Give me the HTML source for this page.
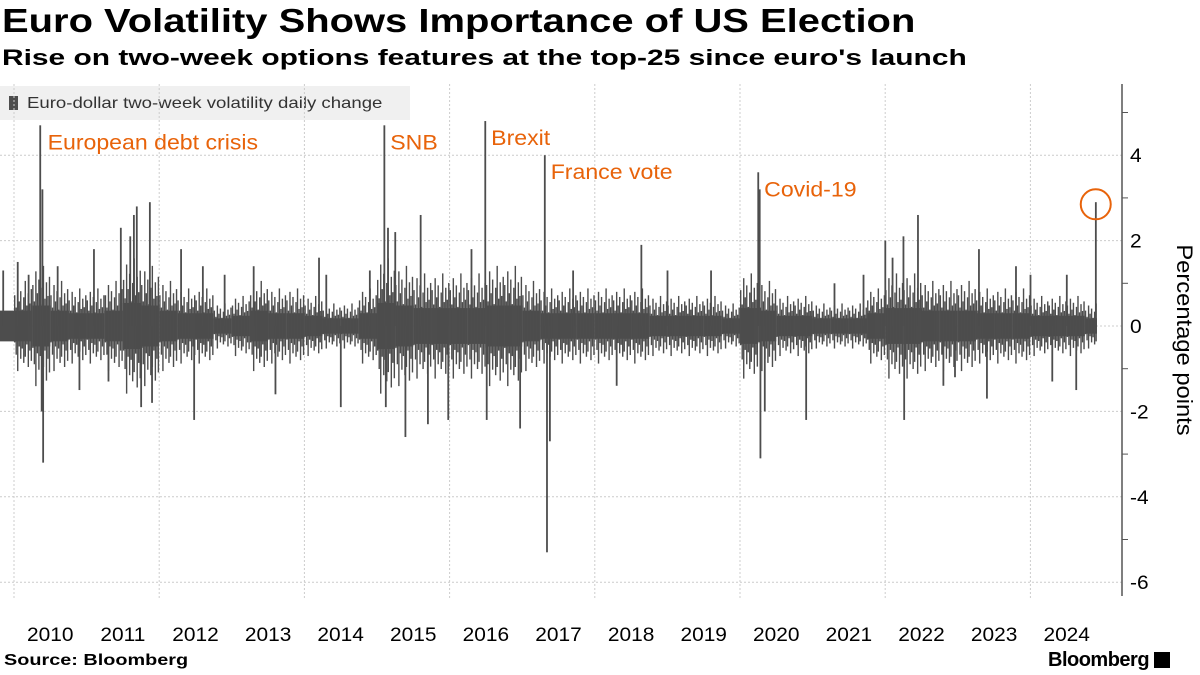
<!DOCTYPE html>
<html><head><meta charset="utf-8"><style>
body{margin:0;width:1200px;height:675px;background:#fff;font-family:"Liberation Sans",sans-serif;overflow:hidden;position:relative}
.t{position:absolute;white-space:nowrap;transform-origin:0 0}
</style></head><body>
<div class="t" style="left:2px;top:2px;font-size:33px;font-weight:bold;color:#000;transform:scaleX(1.21)">Euro Volatility Shows Importance of US Election</div>
<div class="t" style="left:2px;top:45px;font-size:22px;font-weight:bold;color:#000;transform:scaleX(1.36)">Rise on two-week options features at the top-25 since euro's launch</div>
<svg id="c" width="1200" height="675" style="position:absolute;left:0;top:0"></svg>
<div class="t" style="left:4px;top:652px;font-size:16px;font-weight:bold;transform:scaleX(1.24)">Source: Bloomberg</div>
<div class="t" style="left:1048px;top:649px;font-size:20px;font-weight:bold;letter-spacing:-0.5px">Bloomberg <span style="display:inline-block;width:16px;height:16px;background:#000;vertical-align:-2px"></span></div>
<script>
const bandYears=[2010,2010.25,2010.5,2010.75,2011,2011.25,2011.5,2011.75,2012,2012.25,2012.5,2012.75,2013,2013.25,2013.5,2013.75,2014,2014.25,2014.5,2014.75,2015,2015.25,2015.5,2015.75,2016,2016.25,2016.5,2016.75,2017,2017.25,2017.5,2017.75,2018,2018.25,2018.5,2018.75,2019,2019.25,2019.5,2019.75,2020,2020.25,2020.5,2020.75,2021,2021.25,2021.5,2021.75,2022,2022.25,2022.5,2022.75,2023,2023.25,2023.5,2023.75,2024,2024.25,2024.5,2024.75];
const bandHigh=[0.6,0.8,0.6,0.5,0.5,0.6,0.9,0.8,0.6,0.5,0.5,0.3,0.4,0.6,0.5,0.5,0.4,0.3,0.3,0.5,0.9,0.8,0.7,0.7,0.7,0.7,0.8,0.8,0.6,0.5,0.5,0.5,0.5,0.5,0.5,0.4,0.4,0.4,0.4,0.3,0.7,0.6,0.4,0.4,0.3,0.3,0.3,0.5,0.7,0.7,0.6,0.6,0.6,0.5,0.5,0.5,0.4,0.4,0.4,0.3];
const bandLow=[-0.6,-0.8,-0.6,-0.5,-0.5,-0.6,-0.9,-0.8,-0.6,-0.5,-0.5,-0.3,-0.4,-0.6,-0.5,-0.5,-0.4,-0.3,-0.3,-0.5,-0.9,-0.8,-0.7,-0.7,-0.7,-0.7,-0.8,-0.8,-0.6,-0.5,-0.5,-0.5,-0.5,-0.5,-0.5,-0.4,-0.4,-0.4,-0.4,-0.3,-0.7,-0.6,-0.4,-0.4,-0.3,-0.3,-0.3,-0.5,-0.7,-0.7,-0.6,-0.6,-0.6,-0.5,-0.5,-0.5,-0.4,-0.4,-0.4,-0.3];
const spikeDates=[2009.85,2010.05,2010.2,2010.36,2010.39,2010.38,2010.4,2010.6,2010.9,2011.1,2011.3,2011.47,2011.6,2011.65,2011.69,2011.75,2011.87,2011.9,2012.3,2012.48,2012.6,2012.9,2013.3,2013.6,2014.2,2014.3,2014.5,2014.9,2015.1,2015.12,2015.15,2015.25,2015.39,2015.6,2015.7,2015.98,2016.3,2016.49,2016.51,2016.97,2017.31,2017.34,2017.38,2017.7,2018.64,2018.3,2019.0,2019.6,2020.25,2020.27,2020.28,2020.34,2020.91,2021.3,2021.7,2022.0,2022.1,2022.25,2022.26,2022.45,2022.8,2022.96,2023.29,2023.4,2023.8,2024.0,2024.3,2024.5,2024.63,2024.9];
const spikeValues=[1.3,1.5,1.2,4.7,3.2,-2.0,-3.2,1.4,-1.5,1.8,-1.3,2.3,2.1,2.6,2.8,-1.9,2.9,-1.8,1.8,-2.2,1.4,1.2,1.4,-1.6,1.6,1.2,-1.9,1.3,4.7,-1.9,2.3,2.2,-2.6,2.6,-2.3,-2.2,1.8,4.8,-2.2,-2.4,4.0,-5.3,-2.7,1.3,1.9,-1.4,1.3,1.3,3.6,3.2,-3.1,-2.0,-2.2,1.0,1.2,2.0,1.6,2.1,-2.2,2.6,-1.4,-1.2,1.8,-1.7,1.4,1.2,-1.3,1.2,-1.5,2.9];
const yTicks=[4,2,0,-2,-4,-6];
const xYears=[2010,2011,2012,2013,2014,2015,2016,2017,2018,2019,2020,2021,2022,2023,2024];
const annotations=[["European debt crisis",2010.38,4.7],["SNB",2015.1,4.7],["Brexit",2016.49,4.8],["France vote",2017.31,4.0],["Covid-19",2020.25,3.6]];
const X=y=>14+(y-2010)*72.6, Y=v=>326-v*42.7;
const texture=[1.5,0.9,2.0,1.2,1.7,0.8,1.4,2.2,1.0,1.6,1.1,1.8];
const svg=document.getElementById('c'),NS='http://www.w3.org/2000/svg';
function mk(t,a){const e=document.createElementNS(NS,t);for(const k in a)e.setAttribute(k,a[k]);svg.appendChild(e);return e;}
function sx(e,x,s){e.setAttribute('transform','translate('+x+',0) scale('+s+',1) translate('+(-x)+',0)');}
let e=mk('rect',{x:0,y:86,width:410,height:34,fill:'#f0f0f0'});


e=mk('rect',{x:9,y:96,width:9,height:14,fill:'#4d4d4d'});


e=mk('text',{x:27,y:108,'font-size':15.5,fill:'#333','font-family':'Liberation Sans'});e.textContent='Euro-dollar two-week volatility daily change';sx(e,27,1.2);


yTicks.forEach(v=>{
 e=mk('line',{x1:0,x2:1122,y1:Y(v),y2:Y(v),stroke:'#ccc','stroke-dasharray':'2,2'});
 
 
 e=mk('text',{x:1130,y:Y(v)+7,'font-size':19,fill:'#000','font-family':'Liberation Sans'});e.textContent=v;sx(e,1130,1.1);
 
 
});
for(let v=5;v>-6;v-=2){e=mk('line',{x1:1122,x2:1128,y1:Y(v),y2:Y(v),stroke:'#555'});
 
 }
[2010,2012,2014,2016,2018,2020,2022,2024].forEach(y=>{
 e=mk('line',{x1:X(y),x2:X(y),y1:84,y2:600,stroke:'#ccc','stroke-dasharray':'2,2'});
 
 
});
xYears.forEach(y=>{
 e=mk('text',{x:X(y+0.5),y:641,'font-size':19,fill:'#000','text-anchor':'middle','font-family':'Liberation Sans'});e.textContent=y;sx(e,X(y+0.5),1.1);
 
 
});
e=mk('line',{x1:1122,x2:1122,y1:84,y2:596,stroke:'#555','stroke-width':1.5});


e=mk('text',{x:0,y:0,'font-size':22,fill:'#000','text-anchor':'middle','font-family':'Liberation Sans',transform:'translate(1177,340) rotate(90) scale(1.08,1)'});e.textContent='Percentage points';


bandYears.forEach((y,i)=>{
 const x0=X(y)-(y===2010?14:0), x1=X(y+0.25)>1097?1097:X(y+0.25);
 const h=bandHigh[i]*0.6,l=bandLow[i]*0.6;
 e=mk('rect',{x:x0,y:Y(h),width:x1-x0,height:Y(l)-Y(h),fill:'#4d4d4d'});
 
 
 texture.forEach((m,k)=>{const yy=y+k*0.25/texture.length;if(X(yy)>1096)return;
  const m2=texture[(k+5)%texture.length];
  e=mk('rect',{x:X(yy),y:Y(bandHigh[i]*m*0.8),width:1.4,height:Y(bandLow[i]*m2*0.8)-Y(bandHigh[i]*m*0.8),fill:'#4d4d4d'});
  
  });
});
spikeDates.forEach((d,i)=>{
 const v=spikeValues[i];
 e=mk('rect',{x:X(d)-0.8,y:Math.min(Y(v),Y(0)),width:1.8,height:Math.abs(Y(v)-Y(0)),fill:'#4d4d4d'});
 
 
});
annotations.forEach(a=>{
 e=mk('text',{x:X(a[1])+6,y:Y(a[2])+24,'font-size':21,fill:'#e8630a','font-family':'Liberation Sans'});e.textContent=a[0];sx(e,X(a[1])+6,1.1);
 
 
});
e=mk('circle',{cx:X(2024.9),cy:Y(2.85),r:15,fill:'none',stroke:'#e8630a','stroke-width':2});


</script>
</body></html>
